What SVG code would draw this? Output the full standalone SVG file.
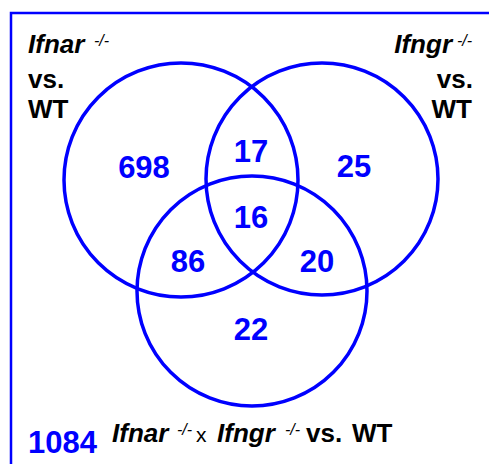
<svg xmlns="http://www.w3.org/2000/svg" width="489" height="464" viewBox="0 0 489 464">
  <style>
    .ring { fill: none; stroke: #0000ff; stroke-width: 3.5; }
    .frame { fill: none; stroke: #0000ff; stroke-width: 2.5; }
    .lbl { font-family: "Liberation Sans", Arial, sans-serif; font-weight: bold; font-size: 26px; fill: #000; }
    .it { font-style: italic; }
    .sup { font-family: "Liberation Sans", Arial, sans-serif; font-style: italic; font-weight: normal; font-size: 16px; fill: #000; }
    .num { font-family: "Liberation Sans", Arial, sans-serif; font-weight: bold; font-size: 31px; fill: #0000ff; text-anchor: middle; }
  </style>
  <rect width="489" height="464" fill="#ffffff"/>
  <!-- frame: top and left edges -->
  <path class="frame" d="M11,464 V13 H489"/>

  <!-- set circles -->
  <g id="set-ifnar">
    <circle class="ring" cx="181" cy="180" r="117"/>
    <text class="lbl it" x="28" y="53">Ifnar</text>
    <text class="sup" x="94" y="46">-/-</text>
    <text class="lbl" x="28" y="88">vs.</text>
    <text class="lbl" x="28" y="118">WT</text>
  </g>
  <g id="set-ifngr">
    <circle class="ring" cx="322" cy="179" r="116"/>
    <text class="lbl it" x="452" y="53" text-anchor="end">Ifngr</text>
    <text class="sup" x="457" y="46">-/-</text>
    <text class="lbl" x="473" y="88" text-anchor="end">vs.</text>
    <text class="lbl" x="472" y="118" text-anchor="end">WT</text>
  </g>
  <g id="set-double">
    <circle class="ring" cx="252" cy="291" r="115"/>
  </g>

  <!-- region counts -->
  <g id="counts">
    <text class="num" x="144" y="178">698</text>
    <text class="num" x="251" y="162">17</text>
    <text class="num" x="354" y="177">25</text>
    <text class="num" x="251" y="228">16</text>
    <text class="num" x="188" y="272">86</text>
    <text class="num" x="317" y="272">20</text>
    <text class="num" x="251" y="340">22</text>
  </g>

  <!-- total and bottom caption -->
  <g id="total">
    <text class="num" x="28" y="453" style="text-anchor:start;font-size:31px">1084</text>
    <text class="lbl it" x="112" y="442">Ifnar</text>
    <text class="sup" x="177" y="435">-/-</text>
    <text x="196" y="442" font-family="Liberation Sans, Arial, sans-serif" font-size="21" fill="#000">x</text>
    <text class="lbl it" x="217" y="442">Ifngr</text>
    <text class="sup" x="285" y="435">-/-</text>
    <text class="lbl" x="306" y="442">vs.</text>
    <text class="lbl" x="352" y="442">WT</text>
  </g>
</svg>
